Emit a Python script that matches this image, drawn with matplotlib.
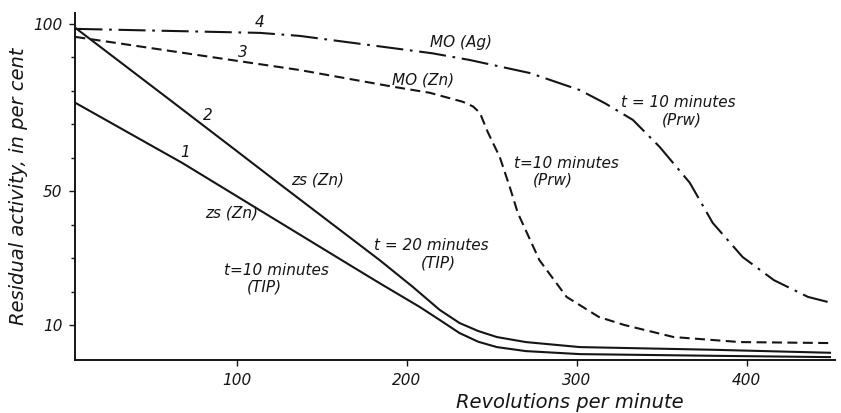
import matplotlib.pyplot as plt
from matplotlib.ticker import FixedLocator

# residual activity (%) vs. revolutions per minute
rpm_1 = [5, 68, 166.5, 184, 207.6, 220, 231, 242, 253, 270, 301.8, 380, 449]
act_1 = [76.4, 58.4, 27.9, 22.5, 15.4, 11.3, 7.6, 5.0, 3.4, 2.2, 1.3, 0.8, 0.4]

rpm_2 = [5, 59, 97.6, 125.3, 154, 184, 203.5, 219.4, 231, 242, 253, 270, 301.8, 380, 449]
act_2 = [98.8, 77.9, 62.9, 52.1, 41, 29.4, 21.4, 14.5, 10.6, 8.2, 6.4, 4.9, 3.4, 2.6, 1.7]

rpm_3 = [5, 104.7, 137, 192, 213.5, 233, 239, 243, 247.6, 254.7, 260.6, 265.3, 278, 294,
         313, 328, 357, 396, 449]
act_3 = [96.1, 88.6, 86.2, 81.2, 79.4, 76.7, 75.3, 73.4, 67.7, 60.2, 51.2, 43.5, 29.4, 18.4,
         12.4, 10, 6.4, 4.9, 4.6]

rpm_4 = [5, 113.5, 137, 215, 237, 272.4, 301.8, 316.5, 333, 348.8, 366.5, 380, 397.6,
         416, 436, 447.6]
act_4 = [98.5, 97.3, 96.4, 91.2, 89.2, 85.3, 80.2, 76.3, 71.3, 63.2, 52.5, 40.5, 30.3,
         23.4, 18.4, 16.9]

x_ticks = [100, 200, 300, 400]
y_ticks = [10, 50, 100]
y_minor = [20, 30, 40, 60, 70, 80, 90]

FONT = {"family": "DejaVu Sans", "style": "italic", "size": 11}
INK = "#151515"


def note(ax, x, y, s):
    ax.text(x, y, s, ha="center", va="center", fontdict=FONT, color=INK)


def main():
    fig = plt.figure(figsize=(8.41, 4.13), dpi=100)
    ax = fig.add_axes([0.089, 0.128, 0.904, 0.841])

    ax.plot(rpm_1, act_1, color=INK, lw=1.5)
    ax.plot(rpm_2, act_2, color=INK, lw=1.5)
    ax.plot(rpm_3, act_3, color=INK, lw=1.5, dashes=(4.8, 2.6))
    ax.plot(rpm_4, act_4, color=INK, lw=1.5, dashes=(13, 3.2, 1.3, 3.2))

    # curve numbers and annotations
    note(ax, 113.5, 100.3, "4")
    note(ax, 103.5, 91.3, "3")
    note(ax, 83, 72.7, "2")
    note(ax, 69.4, 61.7, "1")
    note(ax, 232, 94.3, "MO (Ag)")
    note(ax, 209.4, 83.2, "MO (Zn)")
    note(ax, 294, 58.4, "t=10 minutes")
    note(ax, 286, 53.3, "(Prw)")
    note(ax, 360, 76.6, "t = 10 minutes")
    note(ax, 361.8, 71.3, "(Prw)")
    note(ax, 147.6, 53.3, "zs (Zn)")
    note(ax, 97, 43.4, "zs (Zn)")
    note(ax, 214.7, 33.9, "t = 20 minutes")
    note(ax, 218.8, 28.5, "(TIP)")
    note(ax, 123.5, 26.4, "t=10 minutes")
    note(ax, 116.5, 21.4, "(TIP)")

    ax.set_xlim(4.7, 452)
    ax.set_ylim(-0.5, 103.3)
    ax.set_xticks(x_ticks)
    ax.set_yticks(y_ticks)
    ax.yaxis.set_minor_locator(FixedLocator(y_minor))
    ax.tick_params(axis="both", which="major", length=4, width=1, color=INK,
                   labelsize=11, labelcolor=INK, pad=5)
    ax.tick_params(axis="y", which="minor", length=3, width=1, color=INK)
    for lab in ax.get_xticklabels() + ax.get_yticklabels():
        lab.set_fontstyle("italic")

    for side in ("top", "right"):
        ax.spines[side].set_visible(False)
    for side in ("left", "bottom"):
        ax.spines[side].set_linewidth(1.4)
        ax.spines[side].set_color(INK)

    ax.set_xlabel("Revolutions per minute", fontstyle="italic", fontsize=14, color=INK)
    ax.xaxis.set_label_coords(0.651, -0.095)
    ax.set_ylabel("Residual activity, in per cent", fontstyle="italic", fontsize=14,
                  color=INK)
    ax.yaxis.set_label_coords(-0.062, 0.5)

    fig.savefig("out.png", dpi=100)


if __name__ == "__main__":
    main()
